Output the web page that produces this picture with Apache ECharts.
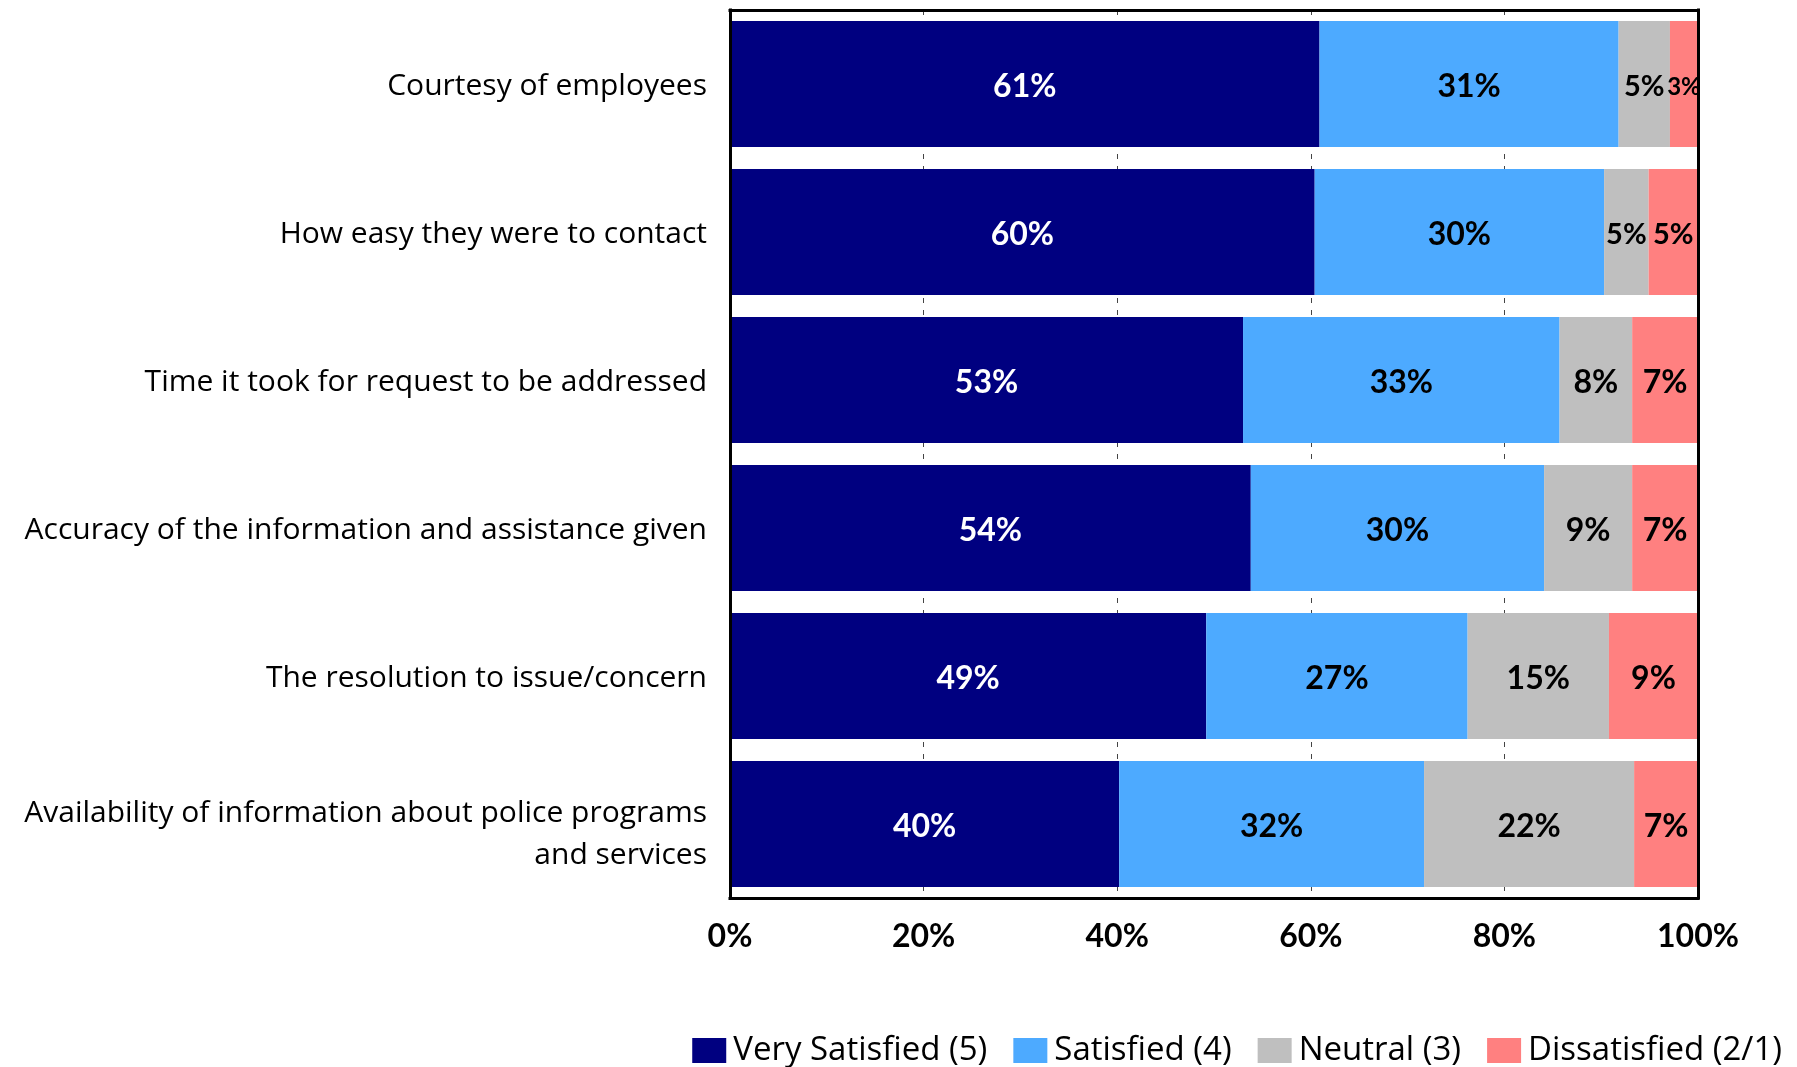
<!DOCTYPE html>
<html>
<head>
<meta charset="utf-8">
<script src="https://cdn.jsdelivr.net/npm/echarts@6/dist/echarts.min.js"></script>
<style>
  html, body { margin: 0; padding: 0; background: #fff; }
  #chart { width: 1797px; height: 1067px; }
</style>
</head>
<body>
<div id="chart"></div>
<script>
// Survey items, listed top to bottom
const categories = [
  'Courtesy of employees',
  'How easy they were to contact',
  'Time it took for request to be addressed',
  'Accuracy of the information and assistance given',
  'The resolution to issue/concern',
  'Availability of information about police programs\nand services'
];

// Share of respondents (%) per rating
const verySatisfied = [60.9, 60.4, 53.0, 53.8, 49.2, 40.2];
const satisfied     = [30.9, 29.9, 32.7, 30.3, 27.0, 31.5];
const neutral       = [5.3, 4.6, 7.5, 9.1, 14.6, 21.7];
const dissatisfied  = [2.9, 5.1, 6.8, 6.8, 9.2, 6.6];

const seriesNames = ['Very Satisfied (5)', 'Satisfied (4)', 'Neutral (3)', 'Dissatisfied (2/1)'];
const seriesColors = ['#000080', '#4DAAFF', '#BFBFBF', '#FF8080'];
const seriesData = [verySatisfied, satisfied, neutral, dissatisfied];

const xTicks = [0, 20, 40, 60, 80, 100];

const NUM_FONT = 'Lato, "Open Sans", sans-serif';
const TEXT_FONT = '"Open Sans", Lato, sans-serif';

// narrow segments get a smaller label
function labelSize(v) {
  if (v < 4) return 24;
  if (v < 6) return 29;
  return 32;
}

// category label text: wrapped names get a taller first line so the block sits lower
function categoryLabel(name) {
  const lines = name.split('\n');
  if (lines.length === 1) return '{s|' + name + '}';
  return lines.map((l, i) => (i === 0 ? '{first|' : '{s|') + l + '}').join('\n');
}

const labelText = { fontFamily: TEXT_FONT, fontSize: 30, color: '#000', lineHeight: 41 };

const chart = echarts.init(document.getElementById('chart'), null, { renderer: 'canvas' });

// heavy black frame around the plot, drawn above the bars
const frameLine = { show: true, onZero: false, lineStyle: { color: '#000', width: 3, cap: 'square' } };
const frameAxis = (type, position) => ({
  type: type,
  position: position,
  z: 10,
  ...(type === 'value' ? { min: 0, max: 100 } : { data: categories, inverse: true }),
  axisLine: frameLine,
  axisTick: { show: false },
  axisLabel: { show: false },
  splitLine: { show: false }
});

const series = seriesData.map((arr, i) => ({
  name: seriesNames[i],
  type: 'bar',
  stack: 'total',
  barWidth: '85%',
  itemStyle: { color: seriesColors[i] },
  data: arr.map(v => ({
    value: v,
    label: { fontSize: labelSize(v) }
  })),
  label: {
    show: true,
    position: 'inside',
    offset: [0, 3],
    color: i === 0 ? '#fff' : '#000',
    fontFamily: NUM_FONT,
    fontWeight: 'bold',
    formatter: p => Math.round(p.value) + '%'
  }
}));

chart.setOption({
  animation: false,
  backgroundColor: '#fff',
  textStyle: { fontFamily: TEXT_FONT },
  grid: { left: 730, right: 99, top: 10, bottom: 169, containLabel: false },
  legend: {
    data: seriesNames,
    right: 10,
    top: 1029,
    icon: 'rect',
    itemWidth: 34,
    itemHeight: 25,
    itemGap: 26,
    textStyle: { fontFamily: TEXT_FONT, fontSize: 33, color: '#000', padding: [0, 0, 0, 2] }
  },
  xAxis: [
    {
      type: 'value',
      min: xTicks[0],
      max: xTicks[xTicks.length - 1],
      interval: 20,
      axisLine: { show: false },
      axisTick: { show: false },
      splitLine: {
        show: true,
        lineStyle: { color: '#444', width: 1, type: [5, 7] }
      },
      axisLabel: {
        margin: 23,
        color: '#000',
        fontFamily: NUM_FONT,
        fontWeight: 'bold',
        fontSize: 32,
        formatter: v => v + '%'
      }
    },
    frameAxis('value', 'bottom'),
    frameAxis('value', 'top')
  ],
  yAxis: [
    {
      type: 'category',
      data: categories,
      inverse: true,
      axisLine: { show: false },
      axisTick: { show: false },
      splitLine: { show: false },
      axisLabel: {
        margin: 23,
        align: 'right',
        ...labelText,
        formatter: categoryLabel,
        rich: {
          s: Object.assign({}, labelText, { padding: [4, 0, 0, 0] }),
          first: Object.assign({}, labelText, { lineHeight: 59, verticalAlign: 'bottom', padding: [0, 0, 5, 0] })
        }
      }
    },
    frameAxis('category', 'left'),
    frameAxis('category', 'right')
  ],
  series: series
});
</script>
</body>
</html>
